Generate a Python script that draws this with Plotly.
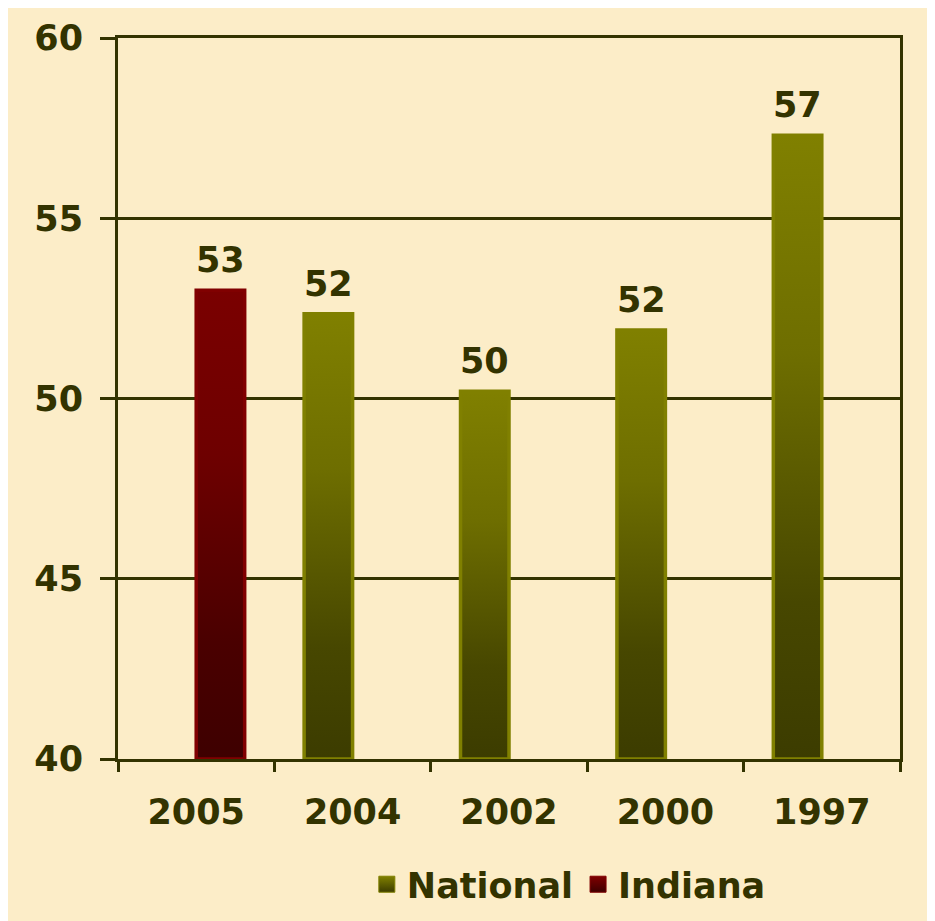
import plotly.graph_objects as go

# data
years = ["2005", "2004", "2002", "2000", "1997"]
national = [None, 52.35, 50.2, 51.9, 57.3]
indiana = [53.0, None, None, None, None]

# look
bg = "#fcedc8"
ink = "#333300"
font = "DejaVu Sans"
fsize = 35
y_min, y_max = 40, 60
w = 0.31  # bar width in category units

nat_scale = [[0, "#3c3c00"], [0.25, "#474700"], [0.65, "#6e6e00"], [1, "#808000"]]
ind_scale = [[0, "#3e0000"], [0.25, "#4a0000"], [0.65, "#6e0000"], [1, "#7a0000"]]

fig = go.Figure()
labels = []


def add_bar(i, v, left, colorscale, edge):
    # bar drawn as a filled polygon so it can carry a vertical gradient
    x0 = i - w if left else i
    x1 = i if left else i + w
    fig.add_trace(go.Scatter(
        x=[x0, x0, x1, x1, x0],
        y=[y_min, v, v, y_min, y_min],
        mode="lines",
        fill="toself",
        fillgradient=dict(type="vertical", colorscale=colorscale),
        line=dict(color=edge, width=3.5),
        showlegend=False,
        hoverinfo="skip",
    ))
    labels.append(dict(x=(x0 + x1) / 2, y=v, text=str(round(v)),
                       showarrow=False, yanchor="bottom", yshift=8,
                       font=dict(family=font, size=fsize, color=ink, weight="bold")))


for i, v in enumerate(national):
    if v is not None:
        add_bar(i, v, True, nat_scale, "#808000")
for i, v in enumerate(indiana):
    if v is not None:
        add_bar(i, v, False, ind_scale, "#800000")

# legend entries
for name, top, bottom in [("National", "#808000", "#3c3c00"), ("Indiana", "#800000", "#3e0000")]:
    fig.add_trace(go.Scatter(
        x=[None], y=[None], mode="markers", name=name,
        marker=dict(symbol="square", size=16, color=top,
                    gradient=dict(type="vertical", color=bottom),
                    line=dict(color=top, width=1)),
    ))

fig.update_layout(
    width=927, height=913,
    margin=dict(l=110, r=35, t=30, b=162, autoexpand=False),
    paper_bgcolor=bg,
    plot_bgcolor=bg,
    font=dict(family=font, size=fsize, color=ink, weight="bold"),
    showlegend=True,
    annotations=labels,
    legend=dict(orientation="h", xref="container", yref="container",
                x=0.605, xanchor="center", y=0.04, yanchor="middle",
                font=dict(family=font, size=fsize, color=ink, weight="bold"),
                bgcolor="rgba(0,0,0,0)", itemwidth=30),
    xaxis=dict(
        range=[-0.5, 4.5], automargin=False,
        tickmode="array", tickvals=list(range(len(years))), ticktext=years,
        ticks="", showgrid=False, zeroline=False,
        showline=True, linecolor=ink, linewidth=3, mirror=True,
        ticklabelstandoff=20,
        minor=dict(tickmode="array", tickvals=[k - 0.5 for k in range(len(years) + 1)],
                   ticks="outside", ticklen=10, tickwidth=3, tickcolor=ink, showgrid=False),
    ),
    yaxis=dict(
        range=[y_min, y_max], dtick=5, automargin=False,
        showgrid=True, gridcolor=ink, gridwidth=3, zeroline=False,
        showline=True, linecolor=ink, linewidth=3, mirror=True,
        ticks="outside", ticklen=15, tickwidth=3, tickcolor=ink,
        ticklabelstandoff=10,
    ),
)

fig.write_html("out.html")
